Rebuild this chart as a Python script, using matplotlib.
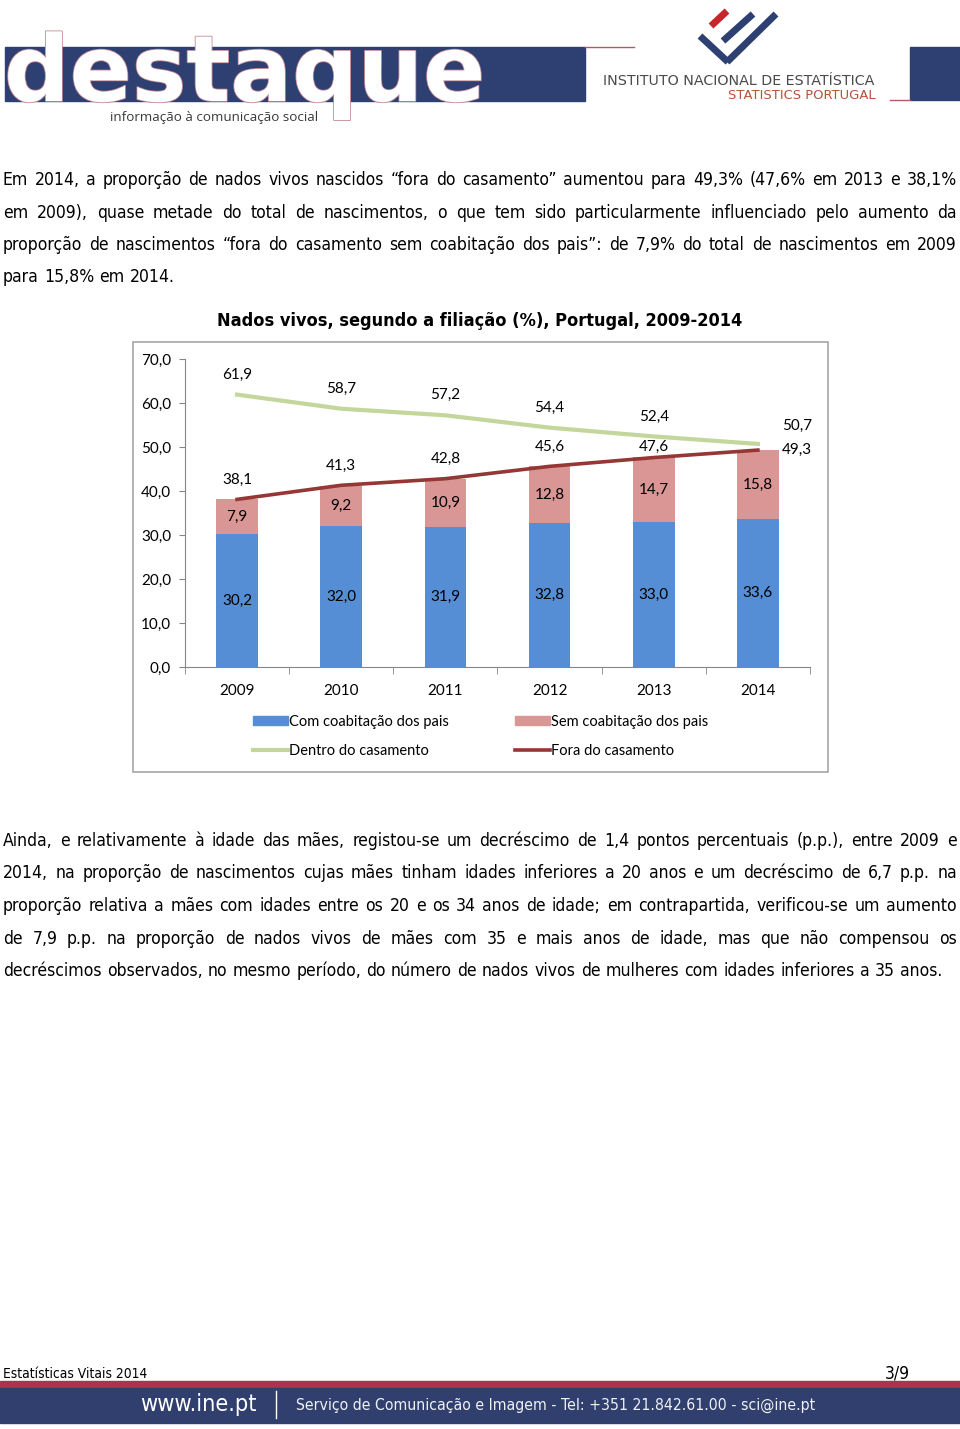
"""
Página 3 do destaque INE — Nados vivos, segundo a filiação (%), Portugal, 2009-2014
"""
import matplotlib
matplotlib.use("Agg")
import matplotlib.pyplot as plt
import matplotlib.patheffects as pe
from matplotlib.patches import Rectangle, Patch
from matplotlib.lines import Line2D
import numpy as np

W, H = 960, 1429

# ── Dados ─────────────────────────────────────────────────────────────────────
YEARS  = ["2009", "2010", "2011", "2012", "2013", "2014"]
COM    = [30.2, 32.0, 31.9, 32.8, 33.0, 33.6]   # com coabitação dos pais
SEM    = [7.9, 9.2, 10.9, 12.8, 14.7, 15.8]     # sem coabitação dos pais
DENTRO = [61.9, 58.7, 57.2, 54.4, 52.4, 50.7]   # dentro do casamento
FORA   = [38.1, 41.3, 42.8, 45.6, 47.6, 49.3]   # fora do casamento
YTICKS = [0, 10, 20, 30, 40, 50, 60, 70]

TITLE = "Nados vivos, segundo a filiação (%), Portugal, 2009-2014"
LEG   = ["Com coabitação dos pais", "Sem coabitação dos pais",
         "Dentro do casamento", "Fora do casamento"]

PARA1 = [
    "Em 2014, a proporção de nados vivos nascidos “fora do casamento” aumentou para 49,3% (47,6% em 2013 e 38,1%",
    "em 2009), quase metade do total de nascimentos, o que tem sido particularmente influenciado pelo aumento da",
    "proporção de nascimentos “fora do casamento sem coabitação dos pais”: de 7,9% do total de nascimentos em 2009",
    "para 15,8% em 2014.",
]
PARA2 = [
    "Ainda, e relativamente à idade das mães, registou-se um decréscimo de 1,4 pontos percentuais (p.p.), entre 2009 e",
    "2014, na proporção de nascimentos cujas mães tinham idades inferiores a 20 anos e um decréscimo de 6,7 p.p. na",
    "proporção relativa a mães com idades entre os 20 e os 34 anos de idade; em contrapartida, verificou-se um aumento",
    "de 7,9 p.p. na proporção de nados vivos de mães com 35 e mais anos de idade, mas que não compensou os",
    "decréscimos observados, no mesmo período, do número de nados vivos de mulheres com idades inferiores a 35 anos.",
]

# ── Estilo ────────────────────────────────────────────────────────────────────
BLUE, PINK = "#558ed5", "#d99694"
GREEN, RED = "#c3d69b", "#953735"
NAVY = "#2e3f72"
CHART_FONT = "Lato"
BODY = dict(family="DejaVu Sans", stretch="condensed")

fig = plt.figure(figsize=(W / 100, H / 100), dpi=100)
fig.patch.set_facecolor("white")
renderer = fig.canvas.get_renderer()


def fx(x):
    return x / W


def fy(y):
    return 1 - y / H


def width_px(t):
    return t.get_window_extent(renderer).width


def fit_text(x, y, s, width, **kw):
    """Texto com tamanho ajustado para ocupar `width` px."""
    t = fig.text(fx(x), fy(y), s, fontsize=10, **kw)
    t.set_fontsize(10 * width / width_px(t))
    return t


def justify(line, y, fs, x0=3, x1=957, last=False, **kw):
    words = line.split(" ")
    ts = [fig.text(0, fy(y), w, fontsize=fs, va="baseline", **kw) for w in words]
    ws = [width_px(t) for t in ts]
    if last or len(words) == 1:
        gap = fs * 100 / 72 * 0.3
    else:
        gap = (x1 - x0 - sum(ws)) / (len(words) - 1)
    x = x0
    for t, w in zip(ts, ws):
        t.set_x(fx(x))
        x += w + gap


# ── Cabeçalho ─────────────────────────────────────────────────────────────────
fig.patches.append(Rectangle((fx(5), fy(101)), fx(580), 54 / H, transform=fig.transFigure,
                             color=NAVY, zorder=0))
fit_text(4, 101, "destaque", 482, color="white", fontweight="bold", family="DejaVu Sans",
         va="baseline", zorder=1,
         path_effects=[pe.withStroke(linewidth=1.2, foreground="#c48a94")])
fit_text(110, 121, "informação à comunicação social", 208, color="#3a3a3a",
         family="Open Sans", va="baseline", zorder=2)
fig.lines.append(Line2D([fx(585), fx(634)], [fy(47), fy(47)], transform=fig.transFigure,
                        color="#b45a66", lw=1))
fig.patches.append(Rectangle((fx(910), fy(100)), fx(50), 53 / H, transform=fig.transFigure,
                             color=NAVY))
fig.lines.append(Line2D([fx(890), fx(910)], [fy(100), fy(100)], transform=fig.transFigure,
                        color="#b45a66", lw=1))
# símbolo INE
for (xa, ya, xb, yb), c in [((711, 26, 727, 11), "#c8242b"),
                            ((723, 41, 753, 14), NAVY),
                            ((700, 36, 728, 62), NAVY),
                            ((727, 62, 776, 14), NAVY)]:
    fig.lines.append(Line2D([fx(xa), fx(xb)], [fy(ya), fy(yb)], transform=fig.transFigure,
                            color=c, lw=5, solid_capstyle="butt"))
fit_text(603, 85, "INSTITUTO NACIONAL DE ESTATÍSTICA", 272, color="#4a4a4a",
         family="DejaVu Sans", va="baseline")
fit_text(728, 99, "STATISTICS PORTUGAL", 147, color="#b4543a", family="DejaVu Sans",
         va="baseline")

# ── Texto ─────────────────────────────────────────────────────────────────────
probe = fig.text(0, 0, PARA2[-1], fontsize=10, **BODY)
BODY_FS = 10 * 937 / width_px(probe)
probe.remove()

for i, line in enumerate(PARA1):
    justify(line, 185 + i * 32.5, BODY_FS, last=(i == len(PARA1) - 1), **BODY)
for i, line in enumerate(PARA2):
    justify(line, 846 + i * 32.5, BODY_FS, last=(i == len(PARA2) - 1), **BODY)

fit_text(480, 326, TITLE, 523, ha="center", va="baseline", fontweight="bold", **BODY)

# ── Gráfico ───────────────────────────────────────────────────────────────────
fig.patches.append(Rectangle((fx(133), fy(772)), fx(695), 430 / H, transform=fig.transFigure,
                             fill=False, edgecolor="#a6a6a6", lw=1.2))

ax = fig.add_axes([fx(185), fy(667), fx(625), 308 / H])
x = np.arange(len(YEARS))
ax.bar(x, COM, 0.4, color=BLUE, zorder=2)
ax.bar(x, SEM, 0.4, bottom=COM, color=PINK, zorder=2)
ax.plot(x, DENTRO, color=GREEN, lw=3, zorder=3)
ax.plot(x, FORA, color=RED, lw=2.6, zorder=3)

fmt = lambda v: f"{v:.1f}".replace(".", ",")
lab = dict(fontsize=11, family=CHART_FONT, ha="center", va="center")
for i in range(len(YEARS)):
    ax.text(x[i], COM[i] / 2, fmt(COM[i]), **lab)
    ax.text(x[i], COM[i] + SEM[i] / 2, fmt(SEM[i]), **lab)

# deslocamentos (px) das etiquetas das linhas
OFF_DENTRO = [(0, 20), (0, 20), (0, 20), (0, 20), (0, 20), (39, 18)]
OFF_FORA   = [(0, 19.5), (0, 19), (0, 19.5), (0, 19), (0, 10.5), (39, 0)]
for vals, offs in [(DENTRO, OFF_DENTRO), (FORA, OFF_FORA)]:
    for i, v in enumerate(vals):
        ax.annotate(fmt(v), (x[i], v), xytext=(offs[i][0] * 0.72, offs[i][1] * 0.72),
                    textcoords="offset points", **lab)

ax.set_xlim(-0.5, len(YEARS) - 0.5)
ax.set_ylim(0, 70)
ax.set_yticks(YTICKS)
ax.set_yticklabels([fmt(v) for v in YTICKS], family=CHART_FONT, fontsize=11)
ax.tick_params(axis="y", length=4, color="#868686", pad=6)
ax.set_xticks(x)
ax.set_xticklabels(YEARS, family=CHART_FONT, fontsize=11)
ax.tick_params(axis="x", which="major", length=0, pad=12)
ax.set_xticks(np.arange(-0.5, len(YEARS)), minor=True)
ax.tick_params(axis="x", which="minor", length=5, color="#868686")
for s in ["top", "right"]:
    ax.spines[s].set_visible(False)
for s in ["left", "bottom"]:
    ax.spines[s].set_color("#868686")

handles = [Patch(color=BLUE), Line2D([], [], color=GREEN, lw=3),
           Patch(color=PINK), Line2D([], [], color=RED, lw=2.6)]
labels = [LEG[0], LEG[2], LEG[1], LEG[3]]
fig.legend(handles, labels, loc="upper left", bbox_to_anchor=(fx(253), fy(715)), ncol=2,
           frameon=False, prop={"family": CHART_FONT, "size": 10.5},
           handlelength=2.4, handleheight=0.55, handletextpad=0.1, columnspacing=4.5,
           labelspacing=1.0, borderpad=0, borderaxespad=0)

# ── Rodapé ────────────────────────────────────────────────────────────────────
fit_text(3, 1378, "Estatísticas Vitais 2014", 144, va="baseline", **BODY)
fit_text(885, 1378, "3/9", 25, va="baseline", **BODY)
fig.patches.append(Rectangle((0, fy(1388)), 1, 7 / H, transform=fig.transFigure,
                             color="#b1304f"))
fig.patches.append(Rectangle((0, fy(1423)), 1, 35 / H, transform=fig.transFigure,
                             color="#303f6d"))
fig.lines.append(Line2D([fx(276), fx(276)], [fy(1418), fy(1391)], transform=fig.transFigure,
                        color="white", lw=1))
fit_text(140, 1405, "www.ine.pt", 117, va="center", color="white", **BODY)
fit_text(296, 1405, "Serviço de Comunicação e Imagem - Tel: +351 21.842.61.00 - sci@ine.pt",
         520, va="center", color="#eef0f6", **BODY)

fig.savefig("out.png", dpi=100)
